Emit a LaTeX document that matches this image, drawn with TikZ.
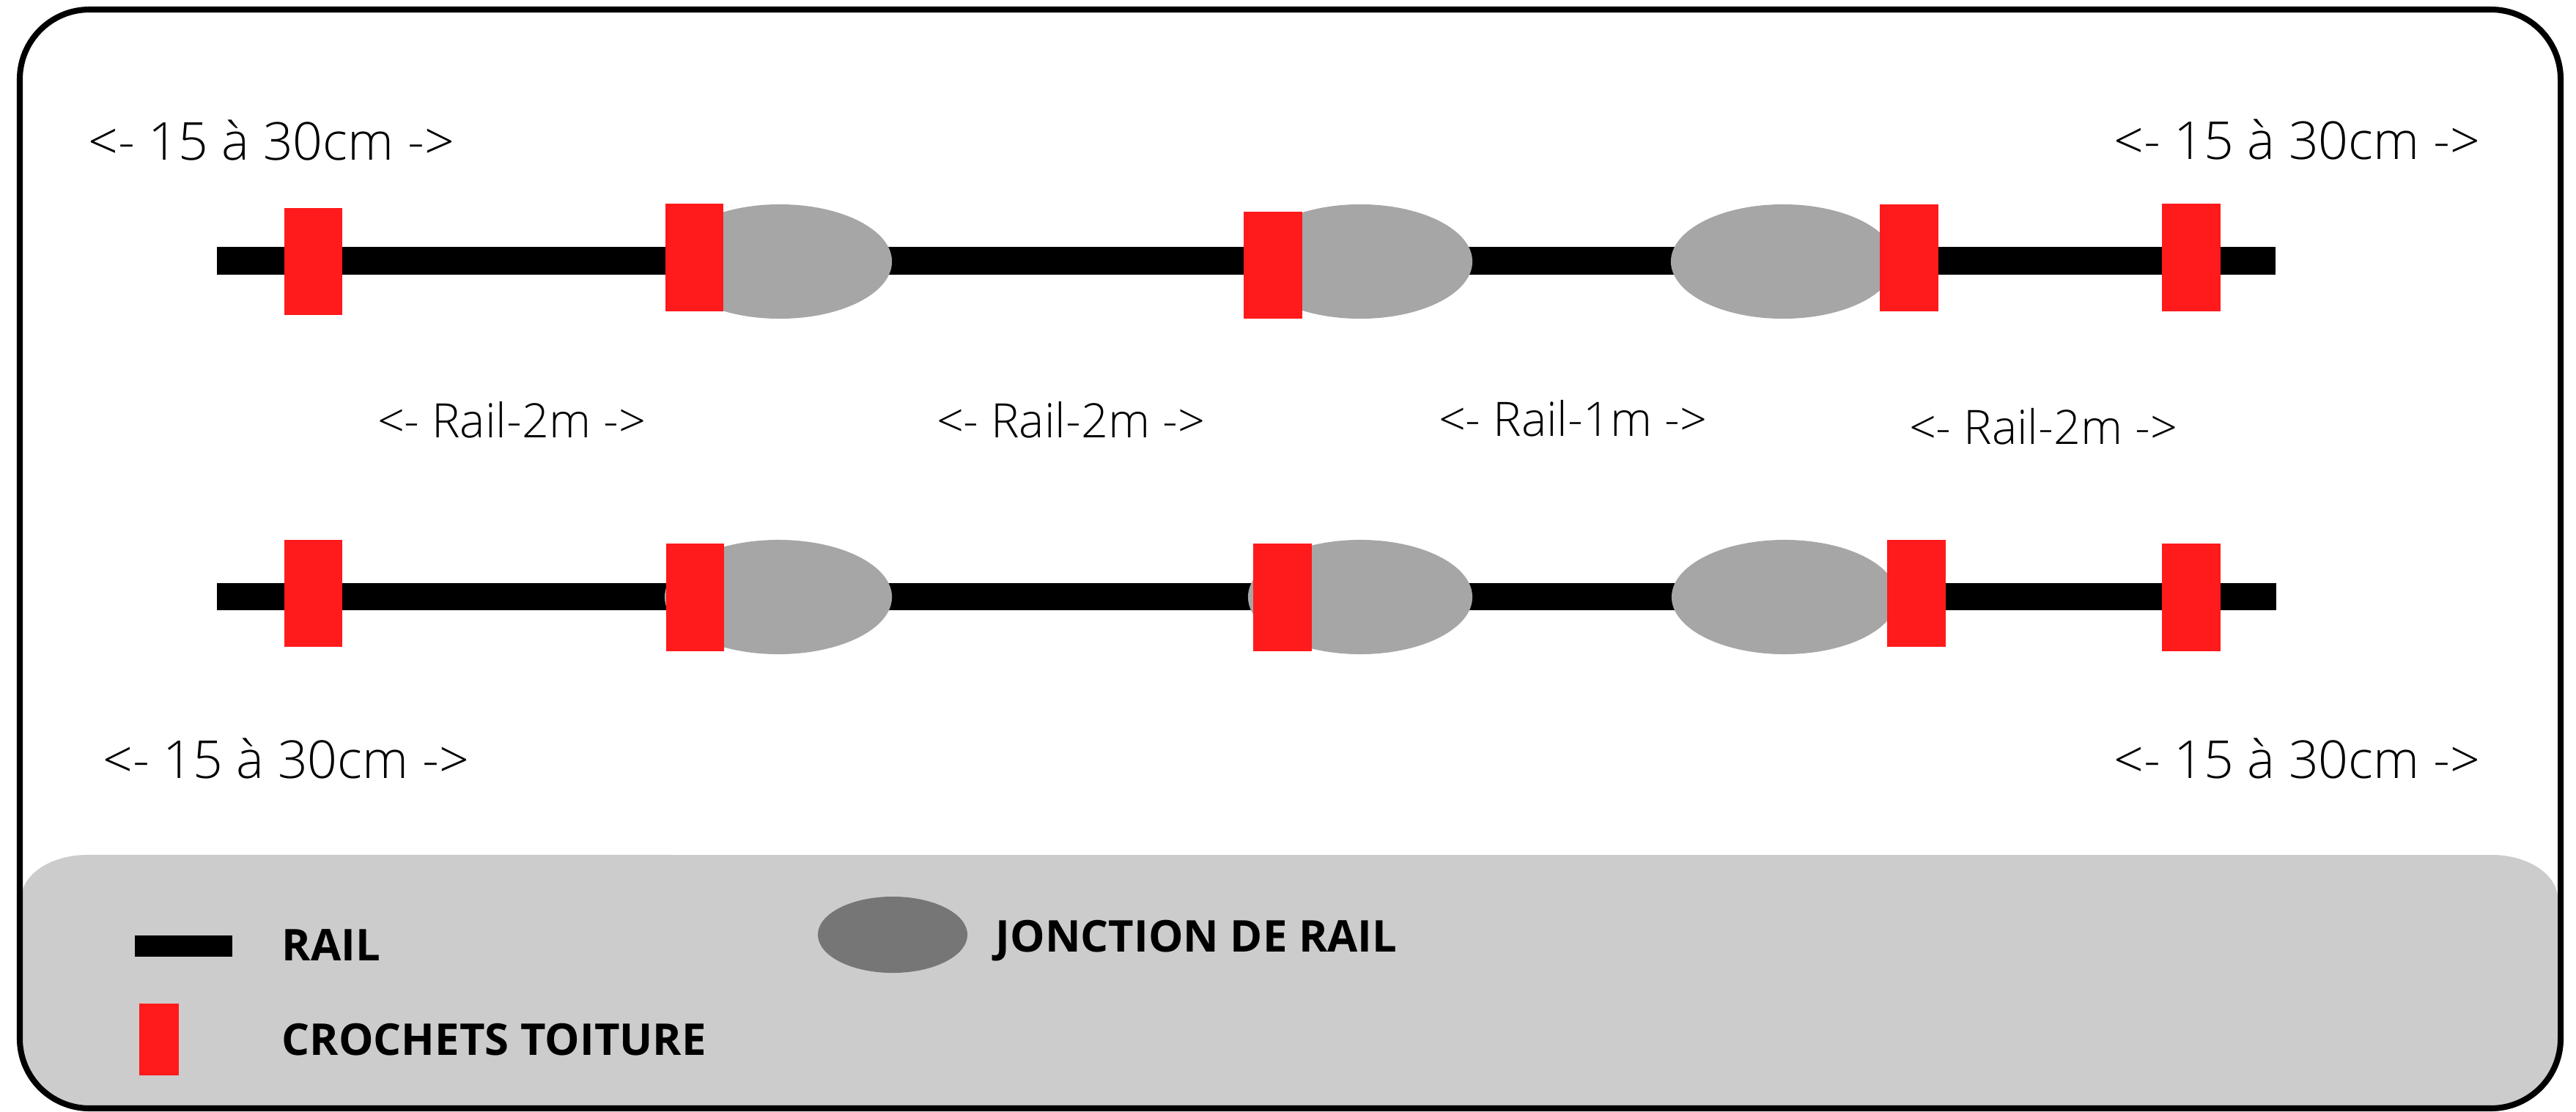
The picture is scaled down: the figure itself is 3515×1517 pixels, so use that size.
\documentclass[tikz,border=0pt]{standalone}
\usepackage{fontspec}
\setmainfont{Open Sans}
\newfontfamily\lightfont{Open Sans Light}
\definecolor{crochetred}{RGB}{255,26,28}
\definecolor{jonctiongray}{RGB}{166,166,166}
\definecolor{legendgray}{RGB}{204,204,204}
\definecolor{legenddark}{RGB}{118,118,118}
\begin{document}
\begin{tikzpicture}[x=0.01cm,y=-0.01cm,
  railbar/.style={fill=black},
  crochet/.style={fill=crochetred},
  jonction/.style={fill=jonctiongray},
  dimtext/.style={font=\lightfont\fontsize{20.3}{24}\selectfont,inner sep=0pt,anchor=base},
  railtext/.style={font=\lightfont\fontsize{18.4}{22}\selectfont,inner sep=0pt,anchor=base},
  legtext/.style={font=\bfseries\fontsize{17}{20}\selectfont,inner sep=0pt,anchor=base west}]
\useasboundingbox (0,0) rectangle (3515,1517);
% legend background
\begin{scope}
\clip[rounded corners=0.95cm] (27,13) rectangle (3494,1513);
\fill[legendgray] (20,1530) -- (29,1227) arc[start angle=180,end angle=90,x radius=0.9cm,y radius=0.6cm]
  -- (3400,1167) arc[start angle=90,end angle=0,x radius=0.9cm,y radius=0.6cm] -- (3500,1530) -- cycle;
\end{scope}
% outer frame
\draw[line width=2.3pt,rounded corners=0.95cm] (27,13) rectangle (3494,1513);
% top row
\fill[railbar] (296,337) rectangle (3105,375);
\fill[jonction] (1064,357) ellipse[x radius=1.53cm,y radius=0.78cm];
\fill[jonction] (1856,357) ellipse[x radius=1.53cm,y radius=0.78cm];
\fill[jonction] (2433,357) ellipse[x radius=1.53cm,y radius=0.78cm];
\fill[crochet] (388,284) rectangle (467,430);
\fill[crochet] (908,278) rectangle (987,425);
\fill[crochet] (1697,289) rectangle (1777,435);
\fill[crochet] (2565,279) rectangle (2645,425);
\fill[crochet] (2950,278) rectangle (3030,425);
% bottom row
\fill[railbar] (296,796) rectangle (3106,833);
\fill[jonction] (1062,815) ellipse[x radius=1.55cm,y radius=0.78cm];
\fill[jonction] (1856,815) ellipse[x radius=1.53cm,y radius=0.78cm];
\fill[jonction] (2435,815) ellipse[x radius=1.54cm,y radius=0.78cm];
\fill[crochet] (388,737) rectangle (467,883);
\fill[crochet] (909,742) rectangle (988,889);
\fill[crochet] (1710,742) rectangle (1790,889);
\fill[crochet] (2575,737) rectangle (2655,883);
\fill[crochet] (2950,742) rectangle (3030,889);
% dimension texts
\node[dimtext] (tl) at (370,218) {<- 15 à 30cm ->};
\node[dimtext] (tr) at (3134,217) {<- 15 à 30cm ->};
\node[dimtext] (bl) at (390,1062) {<- 15 à 30cm ->};
\node[dimtext] (br) at (3134,1062) {<- 15 à 30cm ->};
\node[railtext] (ra) at (698,597) {<- Rail-2m ->};
\node[railtext] (rb) at (1461,597) {<- Rail-2m ->};
\node[railtext] (rc) at (2146,595) {<- Rail-1m ->};
\node[railtext] (rd) at (2788,606) {<- Rail-2m ->};
% legend
\fill[black] (184,1277) rectangle (317,1306);
\node[legtext] (lrail) at (384,1311) {RAIL};
\fill[crochetred] (190,1370) rectangle (244,1468);
\node[legtext] (lcro) at (384,1440) {CROCHETS TOITURE};
\fill[legenddark] (1218,1276) ellipse[x radius=1.02cm,y radius=0.52cm];
\node[legtext] (ljon) at (1358,1299) {JONCTION DE RAIL};
\end{tikzpicture}
\end{document}
